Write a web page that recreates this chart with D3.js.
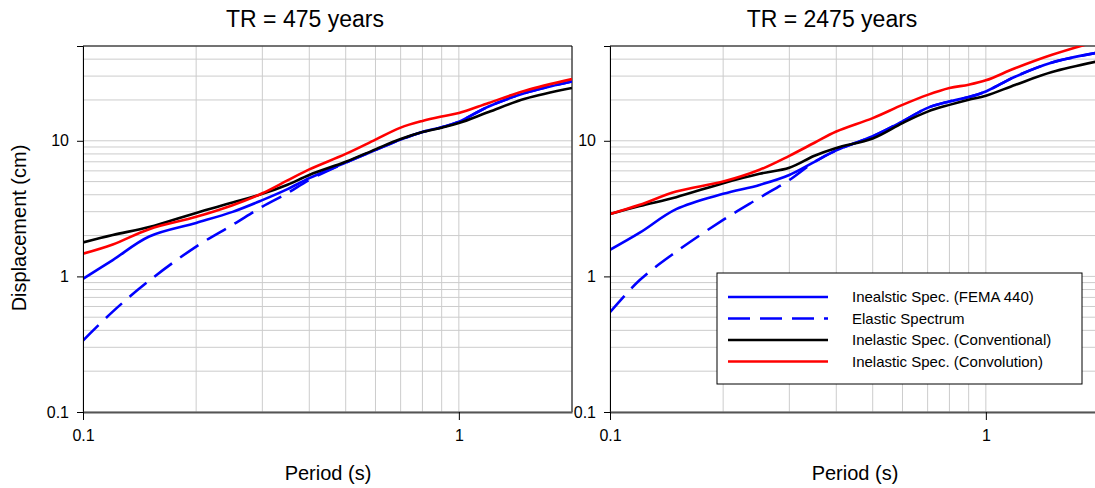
<!DOCTYPE html>
<html>
<head>
<meta charset="utf-8">
<script src="https://cdn.jsdelivr.net/npm/d3@7/dist/d3.min.js"></script>
<style>
  body { margin: 0; background: #fff; }
  text { font-family: "Liberation Sans", Arial, sans-serif; fill: #000; }
</style>
</head>
<body>
<svg id="chart" width="1095" height="488"></svg>
<script>
'use strict';

// periods (s) at which the curves were read
var periods = [0.1, 0.12, 0.15, 0.2, 0.25, 0.3, 0.35, 0.4, 0.5, 0.6, 0.7, 0.8, 0.9, 1, 1.2, 1.5, 2];

// TR = 475 years, displacement (cm)
var fema475         = [0.96, 1.32, 1.97, 2.48, 2.99, 3.65, 4.4, 5.3, 6.9, 8.55, 10.2, 11.6, 12.6, 13.8, 17.9, 22.5, 27.4];
var elastic475      = [0.336, 0.55, 0.93, 1.66, 2.4, 3.27, 4.11, 5.15, 6.9, 8.55, 10.2, 11.6, 12.6, 13.8, 17.9, 22.5, 27.4];
var conventional475 = [1.78, 2.02, 2.31, 2.94, 3.5, 4.06, 4.74, 5.6, 7.0, 8.65, 10.3, 11.6, 12.5, 13.5, 16.3, 20.4, 24.5];
var convolution475  = [1.47, 1.72, 2.23, 2.75, 3.35, 4.1, 5.1, 6.15, 8.0, 10.2, 12.5, 14.0, 15.1, 16.0, 19.0, 23.4, 28.5];

// TR = 2475 years, displacement (cm)
var fema2475         = [1.57, 2.1, 3.13, 4.06, 4.73, 5.6, 7.0, 8.5, 10.8, 13.9, 17.5, 19.5, 21.0, 23.1, 29.8, 37.8, 44.8];
var elastic2475      = [0.544, 0.94, 1.52, 2.61, 3.8, 5.14, 7.0, 8.5, 10.8, 13.9, 17.5, 19.5, 21.0, 23.1, 29.8, 37.8, 44.8];
var conventional2475 = [2.88, 3.3, 3.84, 4.87, 5.71, 6.32, 7.75, 8.85, 10.4, 13.5, 16.4, 18.4, 20.1, 21.5, 25.9, 32.1, 38.7];
var convolution2475  = [2.88, 3.37, 4.22, 5.0, 6.11, 7.75, 9.67, 11.7, 14.7, 18.4, 21.8, 24.5, 25.9, 27.9, 34.4, 43.1, 54.6];

var titles = ['TR = 475 years', 'TR = 2475 years'];
var seriesNames = ['Inealstic Spec. (FEMA 440)', 'Elastic Spectrum', 'Inelastic Spec. (Conventional)', 'Inelastic Spec. (Convolution)'];
var xTickValues = [0.1, 1];
var yTickValues = [0.1, 1, 10];

var styles = [
  { color: '#0000ff', dash: null },
  { color: '#0000ff', dash: '22,10' },
  { color: '#000000', dash: null },
  { color: '#ff0000', dash: null }
];

var svg = d3.select('#chart');
var plotTop = 46, plotBottom = 412, plotWidth = 489;

var panels = [
  { left: 83,  title: titles[0], series: [fema475, elastic475, conventional475, convolution475] },
  { left: 610, title: titles[1], series: [fema2475, elastic2475, conventional2475, convolution2475] }
];

function drawPanel(p, i) {
  var x = d3.scaleLog().domain([0.1, 2]).range([p.left, p.left + plotWidth]);
  var y = d3.scaleLog().domain([0.1, 50]).range([plotBottom, plotTop]);
  var g = svg.append('g');

  // grid
  g.selectAll('.gx').data(x.ticks()).enter().append('line')
      .attr('x1', function (d) { return x(d); }).attr('x2', function (d) { return x(d); })
      .attr('y1', plotTop).attr('y2', plotBottom)
      .attr('stroke', '#cccccc').attr('stroke-width', 1);
  g.selectAll('.gy').data(y.ticks()).enter().append('line')
      .attr('x1', p.left).attr('x2', p.left + plotWidth)
      .attr('y1', function (d) { return y(d); }).attr('y2', function (d) { return y(d); })
      .attr('stroke', '#cccccc').attr('stroke-width', 1);

  // border
  g.append('line').attr('x1', p.left).attr('x2', p.left + plotWidth).attr('y1', plotTop).attr('y2', plotTop)
      .attr('stroke', '#000');
  g.append('line').attr('x1', p.left + plotWidth).attr('x2', p.left + plotWidth).attr('y1', plotTop).attr('y2', plotBottom)
      .attr('stroke', '#000');

  // curves
  var clipId = 'clip' + i;
  svg.append('clipPath').attr('id', clipId).append('rect')
      .attr('x', p.left).attr('y', plotTop).attr('width', plotWidth).attr('height', plotBottom - plotTop);

  var line = d3.line()
      .x(function (d) { return x(d[0]); })
      .y(function (d) { return y(d[1]); })
      .curve(d3.curveCatmullRom.alpha(0.5));

  p.series.forEach(function (vals, k) {
    g.append('path')
        .datum(periods.map(function (t, j) { return [t, vals[j]]; }))
        .attr('clip-path', 'url(#' + clipId + ')')
        .attr('d', line)
        .attr('fill', 'none')
        .attr('stroke', styles[k].color)
        .attr('stroke-width', 2.6)
        .attr('stroke-dasharray', styles[k].dash);
  });

  // axes
  var yAxis = g.append('g').attr('transform', 'translate(' + p.left + ',0)')
      .call(d3.axisLeft(y).tickValues(yTickValues).tickFormat(d3.format('')).tickSize(6).tickPadding(8));
  yAxis.select('.domain').attr('stroke', '#000');
  yAxis.selectAll('text').style('font-size', '16px');

  var xAxis = g.append('g').attr('transform', 'translate(0,' + plotBottom + ')')
      .call(d3.axisBottom(x).tickValues(xTickValues).tickFormat(d3.format('')).tickSizeInner(8).tickSizeOuter(0).tickPadding(10));
  xAxis.select('.domain').attr('stroke', '#555').attr('stroke-width', 2);
  xAxis.selectAll('text').style('font-size', '16px');

  // titles
  g.append('text').attr('x', p.left + 222).attr('y', 27)
      .attr('text-anchor', 'middle').style('font-size', '23px').text(p.title);
  g.append('text').attr('x', p.left + 245).attr('y', 480)
      .attr('text-anchor', 'middle').style('font-size', '20px').text('Period (s)');
}

panels.forEach(drawPanel);

svg.append('text')
    .attr('transform', 'translate(26,228) rotate(-90)')
    .attr('text-anchor', 'middle').style('font-size', '20px')
    .text('Displacement (cm)');

// legend
var legend = svg.append('g').attr('transform', 'translate(717,273)');
legend.append('rect').attr('width', 365).attr('height', 111)
    .attr('fill', '#fff').attr('stroke', '#000').attr('stroke-width', 1);
seriesNames.forEach(function (name, k) {
  var ly = 24 + k * 21.5;
  legend.append('line').attr('x1', 11).attr('x2', 111).attr('y1', ly).attr('y2', ly)
      .attr('stroke', styles[k].color).attr('stroke-width', 2.6)
      .attr('stroke-dasharray', styles[k].dash);
  legend.append('text').attr('x', 135).attr('y', ly + 5)
      .style('font-size', '15px').text(name);
});
</script>
</body>
</html>
